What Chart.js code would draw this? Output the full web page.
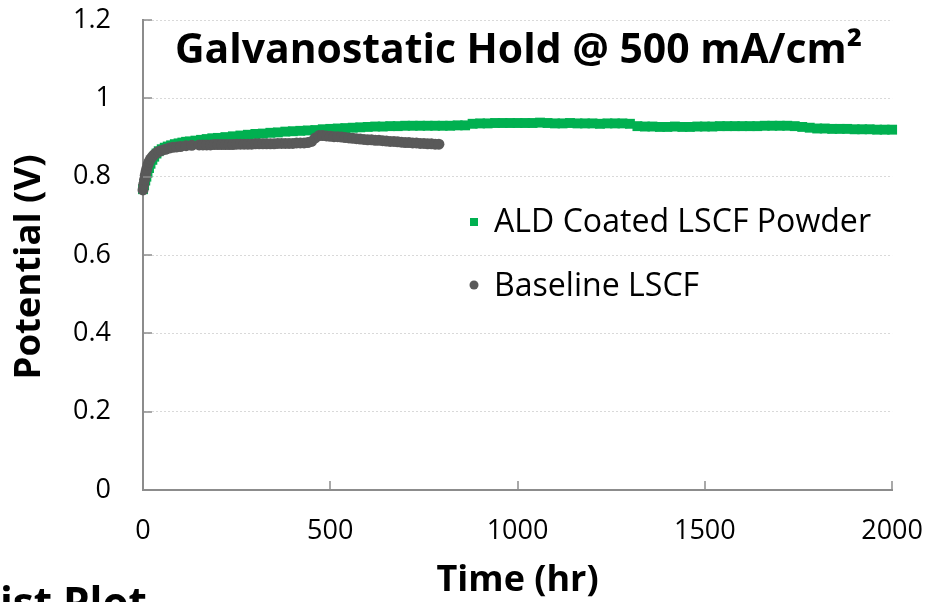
<!DOCTYPE html>
<html>
<head>
<meta charset="utf-8">
<title>Galvanostatic Hold</title>
<script src="https://cdn.jsdelivr.net/npm/chart.js@4.4.1/dist/chart.umd.min.js"></script>
<style>
body{margin:0;background:#fff;}
</style>
</head>
<body>
<canvas id="holdChart" width="926" height="602"></canvas>
<script>

/* DATA */

const chartTitle="Galvanostatic Hold @ 500 mA/cm²";
const xTitle="Time (hr)";
const yTitle="Potential (V)";
const pageCaption="ist Plot";

const xTicks=[0,500,1000,1500,2000];
const yTicks=[0,0.2,0.4,0.6,0.8,1,1.2];

const aldLabel="ALD Coated LSCF Powder";
const aldHours=[0,3,6,9,12,16,20,25,30,36,42,50,58,66,75,85,95,105,115,125,140,155,170,185,200,
220,240,260,280,300,320,340,360,380,400,
420,440,460,480,500,520,540,560,580,600,
620,640,660,680,700,720,740,760,780,800,
820,840,860,880,900,920,940,960,980,1000,
1020,1040,1060,1080,1100,1120,1140,1160,1180,1200,
1220,1240,1260,1280,1300,1320,1340,1360,1380,1400,
1420,1440,1460,1480,1500,1520,1540,1560,1580,1600,
1620,1640,1660,1680,1700,1720,1740,1760,1780,1800,
1820,1840,1860,1880,1900,1920,1940,1960,1980,2000];
const aldVolts=[0.768,0.778,0.790,0.800,0.810,0.822,0.833,0.843,0.851,0.859,0.865,0.870,0.874,0.877,0.880,0.883,0.885,0.887,0.889,0.890,0.892,0.894,0.896,0.898,0.899,
0.901,0.903,0.905,0.907,0.909,0.910,0.912,0.913,0.915,0.916,
0.917,0.918,0.919,0.921,0.922,0.923,0.924,0.925,0.926,0.927,
0.928,0.928,0.929,0.929,0.930,0.930,0.930,0.930,0.930,0.930,
0.930,0.931,0.931,0.935,0.936,0.936,0.937,0.937,0.937,0.937,
0.937,0.937,0.938,0.937,0.936,0.936,0.937,0.936,0.936,0.936,
0.935,0.936,0.936,0.936,0.935,0.929,0.928,0.928,0.927,0.927,
0.928,0.927,0.927,0.928,0.928,0.928,0.929,0.929,0.929,0.929,
0.929,0.929,0.930,0.930,0.930,0.930,0.929,0.927,0.925,0.923,
0.923,0.922,0.922,0.922,0.921,0.921,0.921,0.920,0.920,0.920];

const baseLabel="Baseline LSCF";
const baseHours=[0,2,4,6,8,10,13,16,20,25,30,36,42,50,60,70,80,90,100,115,130,
150,160,170,180,190,200,210,220,230,240,
250,260,270,280,290,300,310,320,330,340,
350,360,370,380,390,400,410,420,430,440,
450,460,470,480,490,500,510,520,530,540,
550,560,570,580,590,600,610,620,630,640,
650,660,670,680,690,700,710,720,730,740,
750,760,770,780,790];
const baseVolts=[0.766,0.780,0.792,0.803,0.812,0.820,0.830,0.838,0.845,0.851,0.856,0.861,0.864,0.867,0.870,0.873,0.875,0.876,0.877,0.879,0.880,
0.881,0.881,0.881,0.881,0.882,0.882,0.882,0.882,0.882,0.882,
0.883,0.883,0.883,0.883,0.883,0.884,0.884,0.884,0.884,0.884,
0.884,0.885,0.885,0.885,0.885,0.885,0.886,0.886,0.886,0.887,
0.890,0.899,0.905,0.905,0.904,0.903,0.902,0.902,0.901,0.900,
0.899,0.898,0.897,0.896,0.895,0.894,0.894,0.893,0.893,0.892,
0.891,0.890,0.890,0.889,0.888,0.887,0.887,0.886,0.886,0.885,
0.885,0.884,0.884,0.883,0.883];


/* STYLE */

const FONT="'Open Sans', 'Noto Sans', sans-serif";
const GREEN="#00B050";
const DARK="#595959";
const AXIS_GRAY="#8c8c8c";

Chart.defaults.font.family=FONT;
Chart.defaults.color="#000";


/* FONT SIZE THAT GIVES A TEXT A GIVEN WIDTH */

function fitFont(ctx,text,weight,width){
ctx.font=weight+" 100px "+FONT;
return 100*width/ctx.measureText(text).width;
}


/* TITLES, LEGEND, INNER TICKS */

const decorations={
id:"decorations",
afterDraw(chart){

const {ctx,chartArea,scales}=chart;
ctx.save();

/* short ticks pointing into the plot on both axes */
ctx.strokeStyle=AXIS_GRAY;
ctx.lineWidth=1.5;
xTicks.forEach(v=>{
const px=Math.round(scales.x.getPixelForValue(v));
ctx.beginPath();
ctx.moveTo(px,chartArea.bottom);
ctx.lineTo(px,chartArea.bottom-9);
ctx.stroke();
});
yTicks.forEach(v=>{
const py=Math.round(scales.y.getPixelForValue(v));
ctx.beginPath();
ctx.moveTo(chartArea.left,py);
ctx.lineTo(chartArea.left+9,py);
ctx.stroke();
});

ctx.fillStyle="#000";
ctx.textAlign="left";
ctx.textBaseline="alphabetic";

/* title */
let size=fitFont(ctx,chartTitle,"bold",687);
ctx.font="bold "+size.toFixed(1)+"px "+FONT;
ctx.fillText(chartTitle,175,63);

/* vertical axis title */
size=fitFont(ctx,yTitle,"bold",225);
ctx.save();
ctx.translate(30,267);
ctx.rotate(-Math.PI/2);
ctx.font="bold "+size.toFixed(1)+"px "+FONT;
ctx.textAlign="center";
ctx.textBaseline="middle";
ctx.fillText(yTitle,0,0);
ctx.restore();

/* legend */
const sets=chart.data.datasets;
size=fitFont(ctx,sets[0].label,"normal",377);
ctx.font=size.toFixed(1)+"px "+FONT;

ctx.fillStyle=GREEN;
ctx.fillRect(470,218,8,8);
ctx.fillStyle="#000";
ctx.fillText(sets[0].label,494,232);

ctx.fillStyle=DARK;
ctx.beginPath();
ctx.arc(474,285,4.5,0,Math.PI*2);
ctx.fill();
ctx.fillStyle="#000";
ctx.fillText(sets[1].label,494,296);

/* caption from the slide below, cut by the edge */
size=fitFont(ctx,pageCaption,"bold",147);
ctx.font="bold "+size.toFixed(1)+"px "+FONT;
ctx.fillText(pageCaption,0,588+size*0.714);

ctx.restore();
}
};


/* CREATE CHART */

new Chart(document.getElementById("holdChart"),{

type:"scatter",

data:{
datasets:[
{
label:aldLabel,
data:aldHours.map((h,i)=>({x:h,y:aldVolts[i]})),
pointStyle:"rect",
pointRadius:7,
pointHoverRadius:7,
pointBorderWidth:0,
backgroundColor:GREEN,
borderColor:GREEN,
clip:false,
order:2
},
{
label:baseLabel,
data:baseHours.map((h,i)=>({x:h,y:baseVolts[i]})),
pointStyle:"circle",
pointRadius:5.5,
pointHoverRadius:5.5,
pointBorderWidth:0,
backgroundColor:DARK,
borderColor:DARK,
clip:false,
order:1
}
]
},

options:{
responsive:false,
animation:false,
events:[],

layout:{
padding:{top:20,right:33,left:0,bottom:0}
},

plugins:{
legend:{display:false},
tooltip:{enabled:false}
},

scales:{

x:{
type:"linear",
min:0,
max:2000,
afterBuildTicks:s=>{s.ticks=xTicks.map(v=>({value:v}));},
afterFit:s=>{s.height=112;},
ticks:{
callback:v=>String(v),
font:{size:27},
color:"#000",
padding:3,
maxRotation:0
},
grid:{display:true,drawOnChartArea:false,drawTicks:true,tickLength:22,tickWidth:0},
border:{color:AXIS_GRAY,width:2},
title:{
display:true,
text:xTitle,
font:{size:36,weight:"bold"},
color:"#000",
padding:{top:0,bottom:0}
}
},

y:{
min:0,
max:1.2,
afterBuildTicks:s=>{s.ticks=yTicks.map(v=>({value:v}));},
afterFit:s=>{s.width=143;},
ticks:{
callback:v=>String(v),
font:{size:27},
color:"#000",
padding:3
},
grid:{color:"#d9d9d9",lineWidth:1,drawTicks:true,tickLength:29,tickWidth:0},
border:{color:AXIS_GRAY,width:2,dash:[2,2]}
}

}
},

plugins:[decorations]

});

</script>
</body>
</html>
